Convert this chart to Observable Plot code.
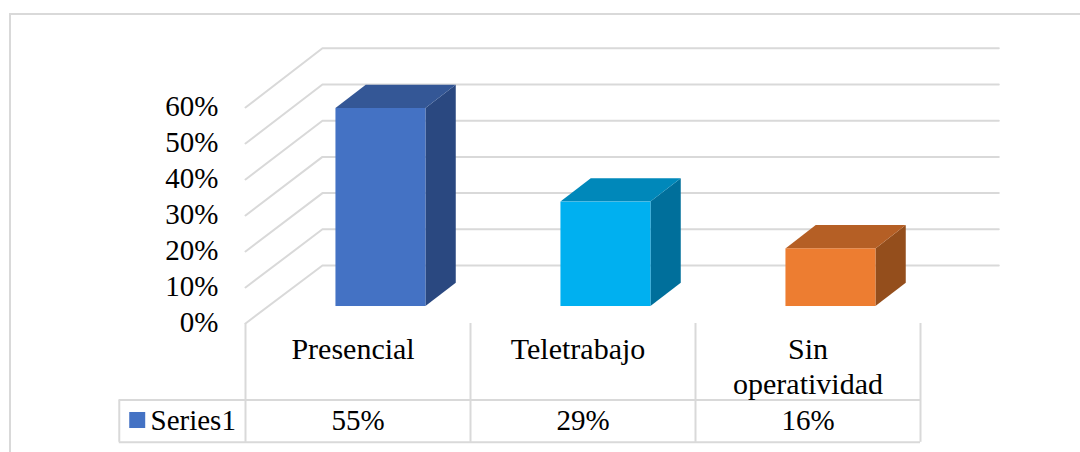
<!DOCTYPE html>
<html>
<head>
<meta charset="utf-8">
<script src="https://cdn.jsdelivr.net/npm/d3@7"></script>
<script src="https://cdn.jsdelivr.net/npm/@observablehq/plot@0.6"></script>
<style>
  html, body { margin: 0; padding: 0; background: #fff; overflow: hidden; }
  #chart { position: relative; width: 1080px; height: 452px; }
  #chart svg { display: block; background: transparent; }
  #border { position: absolute; left: 9px; top: 13px; right: 0; bottom: 0;
            border-left: 2px solid #d9d9d9; border-top: 2px solid #d9d9d9; }
</style>
</head>
<body>
<div id="chart"><div id="border"></div></div>
<script>
const categories = ["Presencial", "Teletrabajo", "Sin\noperatividad"];
const values = [0.55, 0.29, 0.16];
const valueLabels = ["55%", "29%", "16%"];
const yTicks = [0, 0.1, 0.2, 0.3, 0.4, 0.5, 0.6];
const seriesName = "Series1";
const frontColors = ["#4472c4", "#00b0f0", "#ed7d31"];
const topColors = ["#345796", "#0088ba", "#b55f25"];
const sideColors = ["#2a4880", "#006f9b", "#944e1c"];

// 3D projection, in units of the two scales
const wallDx = 0.342, wallDy = 0.161, wallStretch = 1.006, wallEnd = 3.348;
const barStart = 0.402, barWidth = 0.4, barBase = 0.0472;
const depthDx = 0.1347, depthDy = 0.0647;
// Table, in units of the two scales
const tableTop = -0.2125, tableBottom = -0.33, tableLeft = -0.561;
const labelY = -0.03, cellY = -0.27;
const labelShift = [-0.022, -0.022, 0];
const swatch = { x1: -0.5145, x2: -0.4435, y1: -0.2472, y2: -0.2917 };
const nameX = -0.4222;
const bands = [0, 1, 2, 3];
const grey = "#d9d9d9";
const fontFamily = "'Liberation Serif', 'Times New Roman', serif";

const grid = yTicks.flatMap((t) => [
  { t, x: 0, y: t },
  { t, x: wallDx, y: t * wallStretch + wallDy },
  { t, x: wallEnd, y: t * wallStretch + wallDy }
]);
const bars = values.map((v, i) => ({
  i, v,
  x1: i + barStart,
  x2: i + barStart + barWidth,
  y1: barBase,
  y2: barBase + v,
  front: frontColors[i], top: topColors[i], side: sideColors[i]
}));
const sidePts = bars.flatMap((b) => [
  { i: b.i, x: b.x2, y1: b.y1, y2: b.y2, fill: b.side },
  { i: b.i, x: b.x2 + depthDx, y1: b.y1 + depthDy, y2: b.y2 + depthDy, fill: b.side }
]);
const topPts = bars.flatMap((b) => [
  { i: b.i, y: b.y2, x1: b.x1, x2: b.x2, fill: b.top },
  { i: b.i, y: b.y2 + depthDy, x1: b.x1 + depthDx, x2: b.x2 + depthDx, fill: b.top }
]);
const textRows = categories.map((c, i) => ({ c, v: valueLabels[i], x: i + 0.5, lx: i + 0.5 + labelShift[i] }));

const chart = Plot.plot({
  width: 1080, height: 452,
  marginLeft: 245, marginRight: 160, marginTop: 107, marginBottom: 129,
  style: { fontFamily, background: "transparent", color: "#000" },
  x: { type: "linear", domain: [0, 3], range: [245, 920], axis: null },
  y: { type: "linear", domain: [0, 0.6], range: [323, 107] },
  color: { type: "identity" },
  marks: [
    Plot.line(grid, { x: "x", y: "y", z: "t", stroke: grey, strokeWidth: 2 }),
    Plot.ruleX(bands, { x: (d) => d, y1: () => 0, y2: () => tableBottom, stroke: grey, strokeWidth: 2 }),
    Plot.ruleY([tableTop, tableBottom], { y: (d) => d, x1: () => tableLeft, x2: () => 3, stroke: grey, strokeWidth: 2 }),
    Plot.ruleX([tableLeft], { x: (d) => d, y1: () => tableTop, y2: () => tableBottom, stroke: grey, strokeWidth: 2 }),
    Plot.areaY(sidePts, { x: "x", y1: "y1", y2: "y2", z: "i", fill: "fill" }),
    Plot.areaX(topPts, { y: "y", x1: "x1", x2: "x2", z: "i", fill: "fill" }),
    Plot.rect(bars, { x1: "x1", x2: "x2", y1: "y1", y2: "y2", fill: "front", inset: 0 }),
    Plot.axisY({
      ticks: yTicks, tickFormat: d3.format(".0%"), tickSize: 0, tickPadding: 27,
      label: null, fontSize: 29, fill: "#000", dy: -1
    }),
    Plot.text(textRows, {
      x: "lx", y: () => labelY, text: "c", fontSize: 30, lineHeight: 1.17,
      lineAnchor: "top", fill: "#000"
    }),
    Plot.text(textRows, {
      x: "x", y: () => cellY, text: "v", fontSize: 29, lineAnchor: "middle", fill: "#000"
    }),
    Plot.rect([swatch], { x1: "x1", x2: "x2", y1: "y1", y2: "y2", fill: () => frontColors[0], inset: 0 }),
    Plot.text([seriesName], {
      x: () => nameX, y: () => cellY, text: (d) => d, fontSize: 29,
      textAnchor: "start", lineAnchor: "middle", fill: "#000"
    })
  ]
});
document.getElementById("chart").appendChild(chart);
chart.style.position = "absolute";
chart.style.left = "0";
chart.style.top = "0";
</script>
</body>
</html>
